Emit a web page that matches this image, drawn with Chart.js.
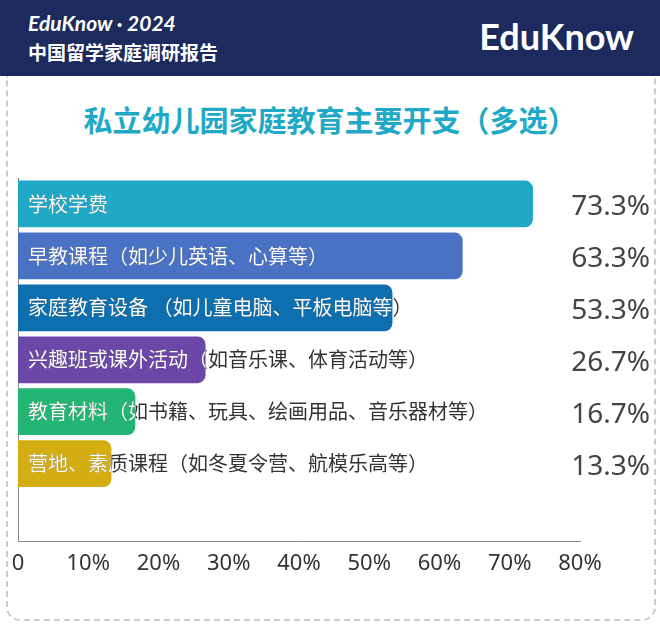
<!DOCTYPE html>
<html><head><meta charset="utf-8">
<script src="https://cdn.jsdelivr.net/npm/chart.js@4"></script>
<style>
body{margin:0;width:660px;height:626px;background:#fff;font-family:"Noto Sans CJK SC",sans-serif;position:relative;overflow:hidden}
#hd{position:absolute;left:0;top:0;width:660px;height:76px;background:#1d2a5e;color:#fff}
#card{position:absolute;left:6px;top:76px;width:646px;height:543px;border:2px dashed #c9ccd6;border-top:none;border-radius:0 0 14px 14px}
#t{position:absolute;left:0;width:660px;top:98px;text-align:center;color:#1fa9c6;font-size:29px;font-weight:bold}
#c{position:absolute;left:0;top:170px}
</style></head><body>
<div id="hd">
<div style="position:absolute;left:28px;top:10px;font-size:21px;font-weight:bold;font-style:italic;font-family:Lato,sans-serif">EduKnow · 2024</div>
<div style="position:absolute;left:28px;top:38px;font-size:19px;font-weight:bold">中国留学家庭调研报告</div>
<div style="position:absolute;right:26px;top:14px;font-size:36px;font-weight:bold;font-family:Lato,sans-serif">EduKnow</div>
</div>
<div id="card"></div>
<div id="t">私立幼儿园家庭教育主要开支（多选）</div>
<canvas id="c" width="660" height="410"></canvas>
<script>
const categories=["学校学费","早教课程（如少儿英语、心算等）","家庭教育设备 （如儿童电脑、平板电脑等）","兴趣班或课外活动（如音乐课、体育活动等）","教育材料（如书籍、玩具、绘画用品、音乐器材等）","营地、素质课程（如冬夏令营、航模乐高等）",""];
const values=[73.3,63.3,53.3,26.7,16.7,13.3,null];
const colors=["#1fa9c6","#4a72c4","#0e6fb0","#6b48a8","#22b573","#d4ad12","#fff"];
const tickLabels=["0","10%","20%","30%","40%","50%","60%","70%","80%"];
const labelPlugin={id:"lbl",afterDatasetsDraw(ch){
 const ctx=ch.ctx,meta=ch.getDatasetMeta(0);
 meta.data.forEach((b,i)=>{
  if(values[i]==null)return;
  const x0=ch.chartArea.left+10,y=b.y;
  ctx.save();ctx.font='20px "Noto Sans CJK SC"';ctx.textBaseline="middle";
  ctx.fillStyle="#333";ctx.fillText(categories[i],x0,y);
  ctx.beginPath();ctx.rect(b.base,y-b.height/2,b.x-b.base,b.height);ctx.clip();
  ctx.fillStyle="#fff";ctx.fillText(categories[i],x0,y);ctx.restore();
  ctx.save();ctx.font='28px "Noto Sans", sans-serif';ctx.fillStyle="#444";ctx.textAlign="right";ctx.textBaseline="middle";
  ctx.fillText(values[i].toFixed(1)+"%",650,y+3);ctx.restore();
 });
}};
new Chart(document.getElementById("c"),{type:"bar",
data:{labels:categories,datasets:[{data:values,backgroundColor:colors,borderRadius:{topRight:8,bottomRight:8},borderSkipped:false,barPercentage:0.9,categoryPercentage:1}]},
options:{indexAxis:"y",responsive:false,animation:false,devicePixelRatio:1,
layout:{padding:{left:10,right:80,top:8,bottom:0}},
plugins:{legend:{display:false},tooltip:{enabled:false}},
scales:{x:{min:0,max:80,ticks:{stepSize:10,maxRotation:0,minRotation:0,color:"#333",font:{size:22,family:"Noto Sans"},callback:(v,i)=>tickLabels[i]},grid:{display:false,drawTicks:true,tickLength:6,tickColor:"#888"},border:{color:"#888"}},
y:{ticks:{display:false},grid:{display:false},border:{color:"#888"}}}}
,plugins:[labelPlugin]});
</script></body></html>
